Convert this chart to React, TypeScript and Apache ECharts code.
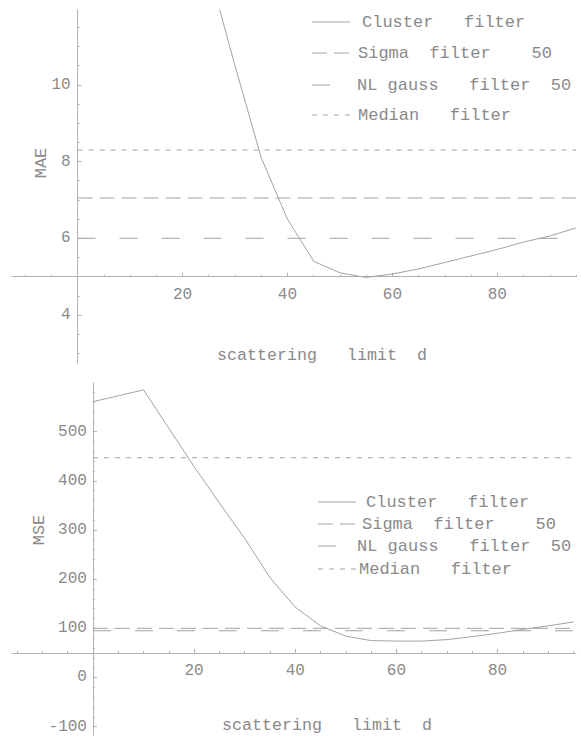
import { useEffect, useRef } from "react";
import * as echarts from "echarts";

// ---------- data ----------
const distMae = [25, 30, 35, 40, 45, 50, 55, 60, 65, 70, 75, 80, 85, 90, 95];
const maeCluster = [13.0, 10.5, 8.1, 6.5, 5.4, 5.1, 4.98, 5.07, 5.2, 5.37, 5.54, 5.71, 5.9, 6.06, 6.27];

const distMse = [0, 5, 10, 15, 20, 25, 30, 35, 40, 45, 50, 55, 60, 65, 70, 75, 80, 85, 90, 95];
const mseCluster = [561, 573, 585, 507, 429, 355, 283, 203, 143, 105, 84, 75, 74, 74, 77, 83, 90, 98, 105, 113];

const dRange = [0, 95];
const maeLevels = [7.05, 6.0, 8.3]; // Sigma 50, NL gauss 50, Median
const mseLevels = [100, 95, 447];

const seriesNames = ["Cluster filter", "Sigma filter 50", "NL gauss filter 50", "Median filter"];
const legendLabels = ["Cluster   filter", "Sigma  filter    50", "NL gauss   filter  50", "Median   filter"];

const xMajor = [20, 40, 60, 80];
const maeMajor = [4, 6, 8, 10];
const mseMajor = [-100, 0, 100, 200, 300, 400, 500];
const axisTitle = "scattering   limit  d";

// ---------- style ----------
const FONT = '"Liberation Mono", "DejaVu Sans Mono", monospace';
const AXIS = "#b2b2b2";
const LINE = "#a2a2a2";
const TEXT = "#8a8a8a";
const DASHES: (number[] | "solid")[] = ["solid", [15, 7], [18, 24], [5, 6]];

function minors(lo: number, hi: number, step: number, majorStep: number): number[] {
  const out: number[] = [];
  const n = Math.round((hi - lo) / step);
  for (let i = 0; i <= n; i++) {
    const v = +(lo + i * step).toFixed(6);
    if (Math.abs(v / majorStep - Math.round(v / majorStep)) > 1e-6) out.push(v);
  }
  return out;
}

export default function App() {
  const ref = useRef<HTMLDivElement>(null);
  useEffect(() => {
    if (!ref.current) return;
    const chart = echarts.init(ref.current, null, { renderer: "svg" });

    const W = 564;
    const topGrid = { left: 12, top: 10, width: W, height: 353 };
    const botGrid = { left: 12, top: 383, width: W, height: 352 };
    const topX = { min: -12.5, max: 95 };
    const topY = { min: 2.75, max: 11.95 };
    const botX = { min: -16, max: 95.5 };
    const botY = { min: -117, max: 599 };
    const topOrigin = 5;
    const botOrigin = 50;
    const topOff = -((topOrigin - topY.min) / (topY.max - topY.min)) * topGrid.height;
    const botOff = -((botOrigin - botY.min) / (botY.max - botY.min)) * botGrid.height;
    const topYOff = -((0 - topX.min) / (topX.max - topX.min)) * W;
    const botYOff = -((0 - botX.min) / (botX.max - botX.min)) * W;

    const lbl = { color: TEXT, fontFamily: FONT, fontSize: 16 };

    const xAx = (grid: number, r: any, off: number, major: boolean, ticks: number[]) => ({
      type: "value",
      gridIndex: grid,
      min: r.min,
      max: r.max,
      position: "bottom",
      offset: off,
      axisLine: { show: major, onZero: false, lineStyle: { color: AXIS, width: 1 } },
      axisTick: { show: true, inside: true, length: major ? 4 : 2, customValues: ticks, lineStyle: { color: AXIS } },
      axisLabel: major ? { show: true, customValues: ticks, margin: 10, ...lbl } : { show: false },
      splitLine: { show: false },
    });
    const yAx = (grid: number, r: any, off: number, major: boolean, ticks: number[], margin: number) => ({
      type: "value",
      gridIndex: grid,
      min: r.min,
      max: r.max,
      position: "left",
      offset: off,
      axisLine: { show: major, onZero: false, lineStyle: { color: AXIS, width: 1 } },
      axisTick: { show: true, inside: true, length: major ? 4 : 2, customValues: ticks, lineStyle: { color: AXIS } },
      axisLabel: major ? { show: true, customValues: ticks, margin, ...lbl } : { show: false },
      splitLine: { show: false },
    });

    const mk = (name: string, i: number, xi: number, yi: number, data: number[][]) => ({
      name,
      type: "line",
      xAxisIndex: xi,
      yAxisIndex: yi,
      data,
      symbol: "none",
      showSymbol: false,
      clip: true,
      silent: true,
      lineStyle: { color: LINE, width: 1, type: DASHES[i] },
    });

    const series: any[] = [];
    series.push(mk(seriesNames[0], 0, 0, 0, distMae.map((d, k) => [d, maeCluster[k]])));
    maeLevels.forEach((v, k) => series.push(mk(seriesNames[k + 1], k + 1, 0, 0, dRange.map((d) => [d, v]))));
    series.push(mk(seriesNames[0], 0, 2, 2, distMse.map((d, k) => [d, mseCluster[k]])));
    mseLevels.forEach((v, k) => series.push(mk(seriesNames[k + 1], k + 1, 2, 2, dRange.map((d) => [d, v]))));

    const legendGraphic = (rows: number[], x1: number, x2: number, tx: number[]) => {
      const els: any[] = [];
      rows.forEach((y, k) => {
        els.push({
          type: "line",
          silent: true,
          shape: { x1, y1: y, x2, y2: y },
          style: { stroke: LINE, lineWidth: 1, lineDash: DASHES[k] === "solid" ? null : DASHES[k] },
        });
        els.push({
          type: "text",
          silent: true,
          x: tx[k],
          y,
          style: { text: legendLabels[k], fill: TEXT, font: `17px ${FONT}`, verticalAlign: "middle", align: "left" },
        });
      });
      return els;
    };

    const graphic: any[] = [
      ...legendGraphic([22, 53, 85, 115], 312, 350, [362, 358, 357, 358]),
      ...legendGraphic([502, 524, 546, 569], 318, 356, [366, 362, 357, 359]),
      { type: "text", silent: true, x: 217, y: 355, style: { text: axisTitle, fill: TEXT, font: `16.67px ${FONT}`, verticalAlign: "middle" } },
      { type: "text", silent: true, x: 222, y: 725, style: { text: axisTitle, fill: TEXT, font: `16.67px ${FONT}`, verticalAlign: "middle" } },
      { type: "text", silent: true, x: 41, y: 163, rotation: Math.PI / 2, style: { text: "MAE", fill: TEXT, font: `17px ${FONT}`, align: "center", verticalAlign: "middle" } },
      { type: "text", silent: true, x: 39, y: 530, rotation: Math.PI / 2, style: { text: "MSE", fill: TEXT, font: `17px ${FONT}`, align: "center", verticalAlign: "middle" } },
    ];

    chart.setOption({
      animation: false,
      backgroundColor: "#ffffff",
      grid: [
        { ...topGrid, containLabel: false, outerBoundsMode: "none" },
        { ...botGrid, containLabel: false, outerBoundsMode: "none" },
      ],
      xAxis: [
        xAx(0, topX, topOff, true, xMajor),
        xAx(0, topX, topOff, false, minors(-10, 95, 5, 20)),
        xAx(1, botX, botOff, true, xMajor),
        xAx(1, botX, botOff, false, minors(-15, 95, 5, 20)),
      ],
      yAxis: [
        yAx(0, topY, topYOff, true, maeMajor, 7),
        yAx(0, topY, topYOff, false, minors(3, 11.5, 0.5, 2), 7),
        yAx(1, botY, botYOff, true, mseMajor, 6),
        yAx(1, botY, botYOff, false, minors(-100, 580, 20, 100), 6),
      ],
      series,
      graphic,
    });
    return () => chart.dispose();
  }, []);

  return (
    <div
      ref={ref}
      style={{ position: "absolute", left: 0, top: 0, width: 581, height: 738, background: "#fff" }}
    />
  );
}
